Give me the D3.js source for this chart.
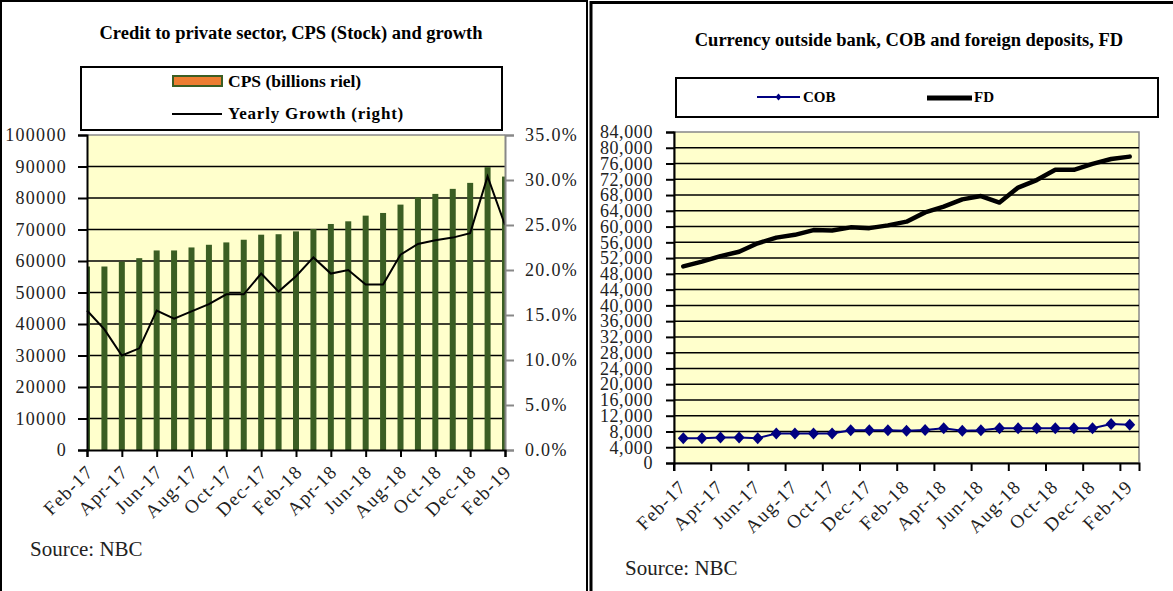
<!DOCTYPE html>
<html>
<head>
<meta charset="utf-8">
<script src="https://cdn.jsdelivr.net/npm/d3@7"></script>
<style>
body { margin: 0; background: #fff; }
svg { font-family: "Liberation Serif", "Times New Roman", serif; }
</style>
</head>
<body>
<div id="chart"></div>
<script>
// Data
const months = ["Feb-17","Mar-17","Apr-17","May-17","Jun-17","Jul-17","Aug-17","Sep-17","Oct-17","Nov-17","Dec-17",
    "Jan-18","Feb-18","Mar-18","Apr-18","May-18","Jun-18","Jul-18","Aug-18","Sep-18","Oct-18","Nov-18","Dec-18",
    "Jan-19","Feb-19"];
const cps = [58250, 58250, 59800, 60900, 63350, 63350, 64300, 65150, 65900, 66750, 68350,
    68500, 69400, 70150, 71750, 72600, 74400, 75250, 77900, 80200, 81300, 82900, 84800,
    89800, 86800];
const growth = [15.5, 13.4, 10.5, 11.3, 15.5, 14.6, 15.4, 16.2, 17.3, 17.3, 19.6,
    17.6, 19.3, 21.4, 19.6, 20.0, 18.4, 18.4, 21.7, 22.9, 23.3, 23.6, 24.1,
    30.4, 25.0];
const cob = [6300, 6300, 6500, 6500, 6300, 7500, 7500, 7500, 7500, 8300, 8300,
    8300, 8200, 8400, 8800, 8200, 8300, 8800, 8800, 8800, 8800, 8800, 8800,
    9900, 9700];
const fd = [49900, 51100, 52500, 53600, 55750, 57200, 57900, 59100, 59000, 59800, 59600,
    60300, 61250, 63600, 65050, 66900, 67750, 66100, 69900, 71800, 74400, 74400, 75900,
    77150, 77750];
const cpsTicks = d3.range(0, 100001, 10000);
const growthTicks = d3.range(0, 35.01, 5);
const depTicks = d3.range(0, 84001, 4000);
const labelMonths = months.filter((d, i) => i % 2 === 0);

const svg = d3.select("#chart")
    .append("svg")
    .attr("width", 1173)
    .attr("height", 591);

// Panel frames
svg.append("path").attr("d", "M1,591V1H587V591").attr("fill", "none").attr("stroke", "#000").attr("stroke-width", 2);
svg.append("path").attr("d", "M591,591V2.5H1173").attr("fill", "none").attr("stroke", "#000").attr("stroke-width", 3);

const plotFill = "#FFFFCC";
const barColor = "#3b5e23";

// style helper for d3 axes (drop their default sans font)
function styleAxis(g, color, size, spacing) {
    g.attr("font-family", null).attr("font-size", null);
    g.select(".domain").attr("stroke", color).attr("stroke-width", 2);
    g.selectAll(".tick line").attr("stroke", color).attr("stroke-width", 2);
    g.selectAll("text").style("font-size", size).style("letter-spacing", spacing).attr("fill", "#222");
}

// ---------------- Left chart ----------------
const x1 = d3.scalePoint().domain(months).range([87, 505]);
const y1 = d3.scaleLinear().domain([0, 100000]).range([450, 135]);
const y1r = d3.scaleLinear().domain([0, 35]).range([450, 135]);

svg.append("text")
    .attr("x", 291).attr("y", 39)
    .attr("text-anchor", "middle")
    .style("font-weight", "bold").style("font-size", "18.5px")
    .text("Credit to private sector, CPS (Stock) and growth");

// Legend
svg.append("rect").attr("x", 81).attr("y", 67).attr("width", 421).attr("height", 63)
    .attr("fill", "#fff").attr("stroke", "#000").attr("stroke-width", 2);
svg.append("rect").attr("x", 173).attr("y", 76).attr("width", 49).attr("height", 10)
    .attr("fill", "#ED7D31").attr("stroke", barColor).attr("stroke-width", 2);
svg.append("text").attr("x", 228).attr("y", 87)
    .style("font-weight", "bold").style("font-size", "17.5px")
    .text("CPS (billions riel)");
svg.append("line").attr("x1", 172).attr("x2", 222).attr("y1", 114).attr("y2", 114)
    .attr("stroke", "#000").attr("stroke-width", 2);
svg.append("text").attr("x", 228).attr("y", 119)
    .style("font-weight", "bold").style("font-size", "17px").style("letter-spacing", "0.8px")
    .text("Yearly Growth (right)");

// Plot area
svg.append("rect").attr("x", 87).attr("y", 135).attr("width", 418).attr("height", 315).attr("fill", plotFill);
svg.append("clipPath").attr("id", "clipL")
    .append("rect").attr("x", 87).attr("y", 135).attr("width", 418).attr("height", 315);

svg.append("g").selectAll("line")
    .data(cpsTicks.slice(1, -1))
    .join("line")
    .attr("x1", 87).attr("x2", 505)
    .attr("y1", d => y1(d)).attr("y2", d => y1(d))
    .attr("stroke", "#000").attr("stroke-width", 1.5);
svg.append("line").attr("x1", 87).attr("x2", 505).attr("y1", 135).attr("y2", 135)
    .attr("stroke", "#888").attr("stroke-width", 1.5);

svg.append("g").attr("clip-path", "url(#clipL)")
    .selectAll("rect")
    .data(cps)
    .join("rect")
    .attr("x", (d, i) => x1(months[i]) - 3)
    .attr("width", 6)
    .attr("y", d => y1(d))
    .attr("height", d => y1(0) - y1(d))
    .attr("fill", barColor);

svg.append("path")
    .datum(growth)
    .attr("fill", "none")
    .attr("stroke", "#000")
    .attr("stroke-width", 2)
    .attr("d", d3.line().x((d, i) => x1(months[i])).y(d => y1r(d)));

// Axes
const axL = svg.append("g").attr("transform", "translate(87,0)")
    .call(d3.axisLeft(y1).tickValues(cpsTicks).tickFormat(d3.format("d")).tickSize(9).tickPadding(11));
styleAxis(axL, "#000", "18px", "1.3px");

const axR = svg.append("g").attr("transform", "translate(505,0)")
    .call(d3.axisRight(y1r).tickValues(growthTicks).tickFormat(d => d.toFixed(1) + "%").tickSize(9).tickPadding(11));
styleAxis(axR, "#888", "18px", "1.3px");

const axB = svg.append("g").attr("transform", "translate(0,450)")
    .call(d3.axisBottom(x1).tickValues(labelMonths).tickSize(7));
styleAxis(axB, "#000", "19px", "1.2px");
axB.selectAll("text")
    .attr("text-anchor", "end")
    .attr("y", 0).attr("dy", 0)
    .attr("transform", "translate(7,23) rotate(-45)");

svg.append("text").attr("x", 30).attr("y", 556)
    .style("font-size", "21px").attr("fill", "#222")
    .text("Source: NBC");

// ---------------- Right chart ----------------
const x2 = d3.scaleBand().domain(months).range([674, 1139]);
const bw = x2.bandwidth();
const y2 = d3.scaleLinear().domain([0, 84000]).range([463, 132]);

svg.append("text")
    .attr("x", 909).attr("y", 46)
    .attr("text-anchor", "middle")
    .style("font-weight", "bold").style("font-size", "18.5px")
    .text("Currency outside bank, COB and foreign deposits, FD");

// Legend
svg.append("rect").attr("x", 676).attr("y", 78).attr("width", 482).attr("height", 39)
    .attr("fill", "#fff").attr("stroke", "#000").attr("stroke-width", 2);
svg.append("line").attr("x1", 757).attr("x2", 800).attr("y1", 97).attr("y2", 97)
    .attr("stroke", "#000080").attr("stroke-width", 2);
svg.append("path").attr("d", "M0,-3.5L3,0L0,3.5L-3,0Z").attr("transform", "translate(778.5,97)").attr("fill", "#000080");
svg.append("text").attr("x", 803).attr("y", 102)
    .style("font-weight", "bold").style("font-size", "15px")
    .text("COB");
svg.append("line").attr("x1", 927).attr("x2", 972).attr("y1", 98).attr("y2", 98)
    .attr("stroke", "#000").attr("stroke-width", 5);
svg.append("text").attr("x", 974).attr("y", 102)
    .style("font-weight", "bold").style("font-size", "15px")
    .text("FD");

// Plot area
svg.append("rect").attr("x", 674).attr("y", 132).attr("width", 465).attr("height", 331)
    .attr("fill", plotFill).attr("stroke", "#888").attr("stroke-width", 1.5);
svg.append("g").selectAll("line")
    .data(depTicks.slice(1, -1))
    .join("line")
    .attr("x1", 674).attr("x2", 1139)
    .attr("y1", d => y2(d)).attr("y2", d => y2(d))
    .attr("stroke", "#000").attr("stroke-width", 1.5);

svg.append("path")
    .datum(fd)
    .attr("fill", "none")
    .attr("stroke", "#000")
    .attr("stroke-width", 4.5)
    .attr("stroke-linejoin", "round")
    .attr("stroke-linecap", "round")
    .attr("d", d3.line().x((d, i) => x2(months[i]) + bw / 2).y(d => y2(d)));

svg.append("path")
    .datum(cob)
    .attr("fill", "none")
    .attr("stroke", "#000080")
    .attr("stroke-width", 2)
    .attr("d", d3.line().x((d, i) => x2(months[i]) + bw / 2).y(d => y2(d)));

svg.append("g").selectAll("path")
    .data(cob)
    .join("path")
    .attr("d", "M0,-6L5.5,0L0,6L-5.5,0Z")
    .attr("transform", (d, i) => `translate(${x2(months[i]) + bw / 2},${y2(d)})`)
    .attr("fill", "#000080");

// Axes
const axL2 = svg.append("g").attr("transform", "translate(674,0)")
    .call(d3.axisLeft(y2).tickValues(depTicks).tickFormat(d3.format(",")).tickSize(8).tickPadding(13));
styleAxis(axL2, "#000", "18px", "0.6px");

const axB2 = svg.append("g").attr("transform", "translate(0,463)")
    .call(d3.axisBottom(x2).tickValues(labelMonths).tickSize(8));
styleAxis(axB2, "#000", "19px", "1.2px");
axB2.selectAll(".tick line").attr("x1", -bw / 2).attr("x2", -bw / 2);
axB2.selectAll("text")
    .attr("text-anchor", "end")
    .attr("y", 0).attr("dy", 0)
    .attr("transform", "translate(4,25) rotate(-45)");

svg.append("text").attr("x", 625).attr("y", 575)
    .style("font-size", "21px").attr("fill", "#222")
    .text("Source: NBC");
</script>
</body>
</html>
